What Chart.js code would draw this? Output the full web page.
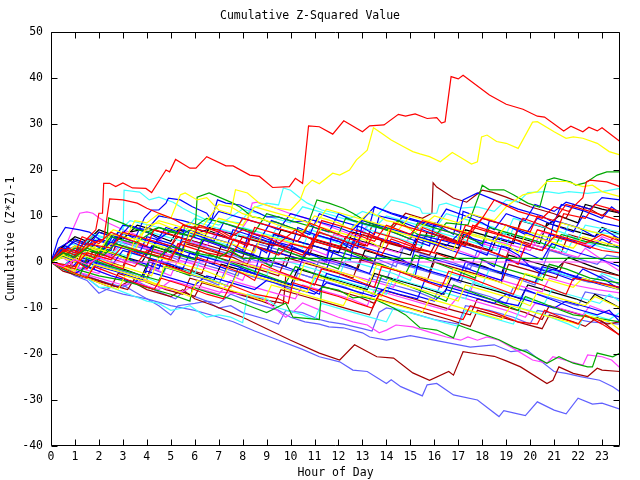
<!DOCTYPE html>
<html>
<head>
<meta charset="utf-8">
<script src="https://cdn.jsdelivr.net/npm/chart.js@4.4.1/dist/chart.umd.min.js"></script>
<style>
  html, body { margin: 0; padding: 0; background: #fff; }
  canvas { display: block; }
</style>
</head>
<body>
<canvas id="chart" width="640" height="480"></canvas>
<script>
// tick labels
const hourTicks = [0,1,2,3,4,5,6,7,8,9,10,11,12,13,14,15,16,17,18,19,20,21,22,23];
const valueTicks = [-40,-30,-20,-10,0,10,20,30,40,50];

// each run is a flat list: hour, value, hour, value ...
const redRuns = [
  [0,0, 0.5,2.5, 1,1.5, 1.5,5, 1.87,7, 2,10.6, 2.15,10.6, 2.2,17.1, 2.45,17.1, 2.7,16.4, 3,17.2, 3.4,16.1, 3.96,16, 4.2,15.1, 4.8,20, 4.95,19.6, 5.2,22.3, 5.8,20.4, 6.05,20.4, 6.5,22.9, 7.3,20.9, 7.6,20.9, 8.3,18.9, 8.7,18.6, 9.25,16.2, 9.95,16.4, 10.2,18.2, 10.5,17.1, 10.75,29.6, 11.2,29.4, 11.76,27.8, 12.22,30.7, 13,28.3, 13.3,29.6, 13.9,29.8, 14.5,32.1, 14.8,31.7, 15.2,32.2, 15.7,31.2, 16.1,31.4, 16.3,30.2, 16.45,30.5, 16.7,40.3, 17,39.8, 17.2,40.6, 18.3,36.3, 19,34.3, 19.7,33.2, 20.3,31.7, 20.6,31.5, 21.4,28.5, 21.7,29.5, 22.2,28.3, 22.45,29.3, 22.8,28.5, 23,29.2, 23.75,26.2],
  [0,0, 0.7,3, 1.2,2, 1.7,4, 2.2,5, 2.45,13.7, 3,13.5, 3.6,12.8, 4,11.7, 4.45,10.7, 5,9.6, 5.7,7.7, 6.2,7.5, 7,7, 7.5,5.5, 8,7, 8.5,6, 9,5.5, 9.5,4, 10.2,7, 11,4.5, 12,3, 12.5,6.5, 13.5,4.5, 14,8, 15,6, 15.5,9, 16.5,7.5, 17.5,6, 18,9.5, 19,8, 20,6.5, 20.3,10, 21,9, 21.5,12.5, 22.5,11, 23.75,9],
  [0,0, 1,-1, 1.5,2, 2.5,0.5, 3,3.5, 4,2, 5,0.5, 5.3,4, 6.5,2, 7.5,1, 8,5.5, 9,4, 9.5,3.5, 10.5,1.5, 11,5, 12,3.5, 12.5,2.5, 13,6, 14,4.5, 15,3, 16,2, 16.3,5, 17,4, 18,9.5, 18.5,13.5, 19.5,11, 20.5,9.5, 21,12, 21.6,11, 22.2,14, 22.35,17.4, 22.5,17.8, 23.2,17.4, 23.75,16.4],
  [0,0, 0.4,3, 1,2, 1.3,5.5, 2,4, 2.5,6.5, 3.2,5, 4,3.5, 4.3,7, 5,6, 5.8,4.5, 6.2,8, 7,6.5, 7.5,5, 8.2,3.5, 8.5,7.5, 9.5,6, 10.3,4.5, 10.8,8.5, 11.5,7, 12.5,5, 13.2,3.5, 13.5,6.5, 14.5,5, 15.2,3.5, 15.5,7.5, 16.5,5.5, 17.3,3.5, 17.6,8, 18.5,6.5, 19.3,5, 19.7,9.5, 20.5,8, 21.1,6.5, 21.4,10.5, 22.3,9.5, 22.7,12.5, 23.75,11],
  [0,0, 0.5,-1, 1,0.5, 1.5,-1.5, 2,2, 2.7,0.5, 3.5,-1, 4,2.5, 5,1, 5.5,4.5, 6.5,3, 7.3,1.5, 7.6,5, 8.5,3.5, 9.5,1.5, 10,4, 10.8,3, 11.2,6.5, 12,5, 13,3, 13.8,1.5, 14.2,5, 15,3.5, 16,2, 16.8,0.5, 17.2,4.5, 18,3, 19,1, 19.5,-0.5, 19.8,3.5, 20.5,2.5, 21,5.5, 22,4, 23,2.5, 23.75,2],
  [0,0, 1,-1.5, 1.3,2, 2.2,0, 3,-1.5, 3.3,2.5, 4.2,0.5, 5,-1, 5.8,-2.5, 6.1,1, 7,-0.5, 8,-2.5, 8.5,-4, 8.8,-0.5, 9.5,-2, 10.5,-4, 11,-5, 11.3,-1.5, 12,-2.5, 13,-4.5, 13.5,-5.5, 13.8,-1, 14.5,-2, 15.5,-4, 16.3,-5.5, 16.6,-2, 17.5,-3.5, 18.5,-5.5, 19.3,-7, 19.6,-3.5, 20.5,-5, 21.5,-7, 21.8,-3.5, 22.8,-4.5, 23.75,-5.5],
  [0,0, 0.8,-2, 1.5,-3.5, 1.8,-1, 2.8,-3, 3.5,-4.5, 4.3,-6, 4.6,-3.5, 5.5,-5, 6.5,-7, 7.2,-8, 7.5,-5, 8.5,-7, 9.5,-8, 9.9,-9, 10.1,-4.5, 11,-6, 12,-7.5, 12.8,-9, 13.4,-10, 13.7,-7, 14.5,-8.5, 15.5,-10, 16.5,-11.5, 17.2,-12.5, 17.5,-9.5, 18.5,-11, 19.5,-13, 20.3,-13.5, 20.6,-10.5, 21.5,-12.5, 22,-13.5, 22.3,-11.5, 23,-13.5, 23.75,-15.9],
  [0,0, 0.5,2, 1,1, 1.5,4, 2.5,3, 3,6.5, 4,5, 5,3.5, 5.5,8, 6.5,6.5, 7.5,5, 8,9.5, 9,8, 10,6.5, 11,5, 11.3,9, 12.3,7.5, 13.3,6, 14,4.5, 14.3,8.5, 15.3,7, 16.3,5.5, 17,4, 17.3,8, 18.3,6.5, 19.3,5, 20,3.5, 20.3,7, 21.3,5.5, 22.3,4, 23,6, 23.75,4.5]
];
const greenRuns = [
  [0,0, 0.5,2.5, 1,1.5, 1.6,3.5, 2.3,2, 2.4,9.6, 3,8.4, 3.5,7.2, 4,6.5, 4.5,7.5, 5,6.5, 6,5.5, 6.1,14.1, 6.6,15, 7.6,12.8, 7.9,11.9, 8.4,9.8, 8.7,9.6, 9.1,8.7, 9.4,8.7, 10,7.5, 10.6,6.5, 11.1,13.5, 11.6,12.8, 12.2,11.7, 12.6,10.6, 13.2,8.7, 14,7, 14.5,9, 15.3,6, 16,5.5, 16.5,8.5, 17.4,8, 17.9,15, 18,16.7, 18.3,15.7, 18.9,15.7, 19.3,14.6, 19.9,12.8, 20.4,11.9, 20.7,17.8, 21,18.3, 21.7,17.4, 21.9,16.7, 22.3,17.2, 22.8,18.9, 23.2,19.6, 23.75,19.6],
  [0,0, 1,-1.5, 2,-3, 3,-4, 4,-5.5, 5,-7, 5.8,-8.5, 5.9,-5.5, 6.5,-6.5, 7.5,-8, 8.5,-10, 9,-11, 9.8,-8.9, 10.1,-12, 11.2,-12.5, 11.3,-5.4, 12,-6.1, 12.6,-7.8, 13,-7.6, 13.6,-8.3, 14.3,-10, 14.8,-11.5, 15.4,-14.3, 16.1,-14.8, 16.8,-16.5, 17,-13.7, 17.3,-14.3, 17.9,-15.4, 18.7,-16.9, 19.3,-18.5, 19.85,-19.6, 20.7,-22, 21.2,-20.6, 21.8,-22, 22.4,-22.8, 22.6,-22.8, 22.8,-19.8, 23.45,-20.6, 23.75,-19.8],
  [0,0, 0.4,2, 1,0.5, 1.6,-1, 2,3, 2.8,1.5, 3.5,0, 4,-1, 4.3,3.5, 5,2, 6,0.5, 6.3,5, 7,4, 8,2, 8.7,0.5, 9.2,-1, 9.5,3, 10.5,1, 11.5,-0.5, 12,-1.5, 12.3,2.5, 13,1, 14,-1, 14.8,-2.5, 15.2,1.5, 16,0, 17,-2, 17.7,-3.5, 18,0.5, 19,-1.5, 20,-3, 20.5,-4, 20.8,-0.5, 21.5,-1.5, 22.5,-3.5, 23.75,-4.6],
  [0,0, 0.5,-1.5, 1.2,-3, 1.5,1, 2.5,-1, 3.5,-2.5, 4.5,-4, 4.8,-1, 5.8,-3, 6.2,2.5, 7.2,0.5, 8.2,-1.5, 9,-3, 9.8,-4.5, 10.2,-1, 11,-2.5, 12,-4.5, 13,-6, 13.5,-7, 13.8,-3, 14.8,-5, 15.8,-7, 16.5,-8.5, 16.8,-5, 17.8,-7, 18.8,-9, 19.5,-10.5, 19.8,-7.5, 20.8,-9.5, 21.8,-11.5, 22.5,-12, 23.75,-13],
  [0,0, 0.5,1, 1,3, 2,2, 2.5,5.5, 3.5,4, 4.5,7.5, 5.5,6, 6.5,9.5, 7.5,8, 8.5,6.5, 9,10.5, 10,9, 11,7.5, 12,6, 12.3,9.5, 13.3,8, 14.3,6.5, 15,5, 15.3,8.5, 16.3,7, 17.3,5.5, 18,4, 18.3,7.5, 19.3,6, 20.3,4.5, 21,3, 21.3,6, 22.3,4.5, 23.75,3]
];
const greenFlat = [0,0, 0.5,2, 1,1, 1.5,3, 2.2,1.5, 2.7,4, 3.5,2.5, 4.5,1, 5,3.5, 6,2, 7,1, 7.5,2.5, 8,0.8, 23.75,0.8];
const blueRuns = [
  [0,0, 0.3,5, 0.6,7.5, 1.2,7, 1.6,6.5, 2,5, 2.5,3.5, 3,6.5, 3.5,5, 3.9,9.6, 4.2,11.3, 4.5,11.3, 4.8,12.8, 4.9,13.9, 5.4,13.5, 5.9,12, 6.5,10.6, 6.7,9.1, 6.95,13.5, 7.3,12.8, 7.9,12.4, 8.2,11.7, 8.7,10.6, 9,9.8, 9.5,9.8, 10.1,8.7, 10.6,9, 11,7.5, 11.6,6.5, 12,10.5, 12.6,9, 13.3,8, 13.5,12, 14.2,10.5, 14.8,9.5, 15.5,8.5, 16,7.5, 16.5,11.5, 17.3,10, 18,8.5, 18.5,7, 19,10.5, 19.8,9, 20.2,12.5, 21,11, 21.5,13, 22.5,11.5, 23,14, 23.75,13.5],
  [0,0, 0.3,3, 0.8,4.5, 1.5,3, 2,6.5, 2.8,5, 3.3,8, 4,6.5, 4.5,5, 5.2,7.5, 6,6, 6.8,4.5, 7.2,8.5, 8,7, 8.8,5.5, 9.2,9, 10,7.5, 10.8,6, 11.2,10.5, 12,9, 13,7.5, 13.5,6, 13.7,10, 14.5,9, 15.5,7, 16.5,5, 17,4, 17.2,11, 18,9.5, 19,8, 19.8,6, 20.3,9.5, 21,8, 21.8,6.5, 22.2,10, 23,8.5, 23.75,7.7],
  [0,0, 0.5,2.5, 1,4.5, 1.6,3.5, 2.2,2, 2.6,6, 3.4,4.5, 4.2,3, 4.8,7.5, 5.6,6, 6.5,4.5, 7.3,3, 7.6,7, 8.5,5.5, 9.3,4, 10,2.5, 10.3,7.5, 11,6, 12,4.5, 12.8,3, 13,8.5, 14,7, 15,5, 15.8,3.5, 16,8.5, 16.8,7, 17.5,5.5, 18,3.5, 18.3,9, 19,8, 20,6, 20.8,4.5, 21,9, 22,7.5, 22.7,5.5, 23.1,7, 23.75,5],
  [0,0, 0.5,1.5, 1,3, 1.5,2, 2,5, 3,3.5, 3.7,2, 4,5.5, 5,4, 5.5,2.5, 5.8,7, 6.5,5.5, 7.5,4, 8,2.5, 8.3,6.5, 9,5, 10,3.5, 10.7,2, 11,6, 12,4.5, 12.5,3, 12.8,7, 13.5,5.5, 14.5,4, 15,2.5, 15.3,6, 16.5,4.5, 17.5,3, 18.2,1.5, 18.5,5.5, 19.5,4, 20.5,2.5, 20.8,6, 21.8,4.5, 22.5,3, 23,5, 23.75,3],
  [0,0, 0.6,3.5, 1.2,2, 2,0.5, 2.3,4, 3,3, 4,1.5, 4.4,4.5, 5.2,3, 6,1.5, 6.4,5, 7.5,3, 8.5,1.5, 9,0, 9.3,4.5, 10,3, 11,1.5, 11.5,0, 11.7,5.5, 12.5,4, 13.5,2.5, 14.5,1, 15,-0.5, 15.3,5, 16.2,3.5, 17,2, 18,0.5, 18.5,-1, 18.8,3.5, 19.8,2, 20.5,0.5, 20.9,4, 22,2, 23,0.5, 23.75,-1],
  [0,0, 0.4,1.5, 1,0, 1.8,-1.5, 2.1,2.5, 3,1, 4,-0.5, 4.5,-1.5, 4.8,3, 5.5,1.5, 6.5,0, 7.3,-1.5, 7.6,2.5, 8.5,1, 9.5,-0.5, 10.3,-2, 10.6,2, 11.5,0.5, 12.5,-1, 13.3,-2.5, 13.6,1.5, 14.5,0, 15.5,-1.5, 16.5,-3, 17,-4, 17.3,0, 18.3,-1.5, 19.3,-3, 20.2,-4.5, 20.5,-1, 21.5,-2.5, 22.5,-4, 23.75,-5.5],
  [0,0, 0.5,-1.5, 1,1.5, 1.8,0, 2.5,-1, 3,2.5, 4,1, 5,-0.5, 5.5,-1.5, 5.8,2, 6.8,0.5, 7.8,-1, 8.5,-2.5, 8.8,3, 9.8,1.5, 10.8,0, 11.5,-1.5, 11.8,2.5, 12.8,1, 13.8,-0.5, 14.5,-2, 15.2,-3, 15.4,1.5, 16.4,0, 17.4,-1.5, 18.2,-3, 18.8,-4, 19,0.5, 20,-1, 21,-2.5, 21.8,-4, 22.2,-1.5, 23,-3.5, 23.75,-6],
  [0,0, 0.7,-2, 1.2,0.5, 2,-1, 3,-2.5, 3.8,-4, 4.1,0, 5,-1.5, 6,-3, 7,-4.5, 7.5,-5.5, 7.8,-1.5, 8.8,-3, 9.8,-4.5, 10.8,-6, 11.2,-7, 11.5,-2.5, 12.5,-4, 13.5,-5.5, 14.5,-7, 15.3,-8, 15.6,-4, 16.6,-5.5, 17.6,-7, 18.6,-8.5, 19.5,-9.5, 19.8,-6, 20.8,-8, 21.8,-10, 22.8,-11.5, 23.3,-10.5, 23.75,-13],
  [0,0, 0.5,2, 1,5, 1.5,4, 2.5,2.5, 2.8,6.5, 3.8,5, 4.8,3.5, 5.3,2, 5.6,8, 6.5,6.5, 7.5,5, 8.5,3.5, 9,2, 9.3,6, 10.3,4.5, 11.3,3, 12,1.5, 12.5,0.5, 12.8,8, 13.5,12, 14.3,10.5, 15.3,9, 16.3,7.5, 16.8,6, 17.2,13.5, 17.8,15, 18.5,13.5, 19.5,11.5, 20.5,10, 21,8.5, 21.3,12.5, 22.3,11, 23,9.5, 23.4,12, 23.75,10.6],
  [0,0, 0.5,3, 1,2, 1.5,5, 2.5,4, 3,8, 4,7, 4.5,10, 5.5,9, 6.5,7.5, 7,11, 8,9.5, 9,8, 9.5,7, 10,10.5, 11,9, 12,7.5, 12.5,6.5, 13,9, 14,7.5, 15,6, 16,4.5, 16.5,3.5, 17,6, 18,4.5, 19,3, 19.5,1.5, 20,-1, 20.5,-2.5, 21,-1.5, 22,-3.5, 23,-5, 23.75,-6],
  [0,0, 0.5,-1, 1,-2.5, 1.5,-1, 2.5,-3, 3.5,-4.5, 4,-2, 5,-3.5, 6,-5, 6.5,-3, 7.5,-4.5, 8.5,-6, 9,-4, 10,-5.5, 11,-7, 11.5,-4.5, 12.5,-6, 13.5,-7.5, 14,-5.5, 15,-7, 16,-8.5, 16.5,-6, 17.5,-7.5, 18.5,-9, 19,-7, 20,-8.5, 21,-10, 21.5,-8.5, 22.5,-10, 23.75,-12]
];
const magentaRuns = [
  [0,0, 1,-2, 2,-3.5, 3,-5, 4,-4, 4.5,-5.5, 5.5,-6.5, 6,-5, 7,-6.5, 8,-7, 8.8,-7.8, 9.8,-12, 10.1,-10.9, 10.5,-8.9, 11.2,-10.4, 12,-12, 12.6,-13, 13.2,-13.7, 13.7,-15.4, 14,-14.8, 14.4,-13.7, 15.1,-14.1, 15.9,-15.4, 16.5,-16.3, 17.1,-17, 17.4,-16.3, 17.8,-17, 18.2,-16.3, 18.7,-17, 19.4,-19.1, 20.1,-21.3, 20.7,-22, 20.95,-20.6, 22.2,-22.4, 22.4,-20.2, 23,-20.6, 23.4,-21.3, 23.75,-23],
  [0,0, 0.5,2, 0.9,7, 1.2,10.6, 1.5,10.9, 1.75,10.6, 2,9.6, 2.3,8.7, 2.6,8, 3,7, 3.5,6, 4,5, 4.5,4, 4.8,7, 5.5,6, 6.5,4.5, 7.5,3, 8,2, 8.3,6.5, 9,5.5, 10,4, 11,2.5, 11.5,1.5, 11.8,6, 12.5,5, 13.5,3.5, 14.5,2, 15,5.5, 16,4, 17,2.5, 17.8,1, 18.2,5, 19,4, 20,2.5, 20.5,6.5, 21.5,5, 22.5,3.5, 23,5.5, 23.75,4],
  [0,0, 0.5,-1, 1,1, 1.5,3, 2.5,1.5, 3,4.5, 4,3, 5,1.5, 5.5,5, 6.5,3.5, 7,7, 7.8,6, 8.2,9, 8.4,12.8, 8.6,13, 9,12.4, 10,10.5, 11,9, 11.5,8, 12,7, 12.8,5.5, 13.3,8.5, 14.3,7, 15.3,5.5, 16,4, 16.3,7, 17.3,5.5, 18,4, 19,2.5, 19.5,1, 20,4, 21,2.5, 22,1, 22.3,3, 23,0.5, 23.75,-2],
  [0,0, 0.5,1, 1,-1, 2,-2.5, 2.3,1.5, 3.3,0, 4.3,-1.5, 5,-3, 5.3,0.5, 6.3,-1, 7.3,-2.5, 8,-4, 8.3,-0.5, 9.3,-2, 10.3,-3.5, 11,-5, 11.3,-1, 12.3,-2.5, 13.3,-4, 14.3,-5.5, 14.6,-2, 15.6,-3.5, 16.6,-5, 17.5,-6.5, 17.8,-2.5, 18.8,-4, 19.8,-5.5, 20.5,-6.5, 20.8,-3.5, 21.8,-5, 22.8,-6, 23.75,-6.7],
  [0,0, 0.8,-2, 1.5,-1, 2.5,-3, 3.5,-4.5, 4.5,-6, 5,-4, 6,-5.5, 7,-7, 7.5,-4, 8.5,-5.5, 9.5,-7, 10.2,-8, 10.5,-5, 11.5,-6.5, 12.5,-8, 13.2,-9.5, 13.5,-6, 14.5,-7.5, 15.5,-9, 16.5,-10.5, 17,-7.5, 18,-9, 19,-10.5, 19.8,-12, 20.2,-9, 21.2,-10, 22.2,-11.5, 22.5,-9.5, 23.75,-12]
];
const magentaFlat = [0,0, 0.5,-1, 1,0.5, 1.5,-0.5, 2,1, 2.5,0, 23.75,0];
const cyanRuns = [
  [0,0, 1,-1, 1.5,1.5, 2.5,0, 3,4.8, 3.05,15.6, 3.7,15.2, 4.1,13.5, 4.5,14.1, 5.1,13, 5.5,11.7, 5.9,10.6, 6.5,9.1, 7.6,8.7, 7.9,8.5, 8.2,10.6, 8.4,11.7, 9,12.8, 9.5,12.4, 9.7,16.1, 10,15.6, 10.4,13.9, 10.7,12.8, 11.3,11.3, 11.9,10.6, 12.5,9.5, 13,11, 13.6,10, 14.2,13.5, 14.8,12.8, 15.4,11.7, 15.5,10.6, 16.1,10.6, 16.2,12.4, 16.5,12.8, 17.1,11.7, 17.8,12, 18.5,11, 19,13.5, 19.5,13, 19.9,15.1, 20.7,15.3, 21.2,14.9, 21.6,15.3, 22.4,14.9, 23,15.3, 23.75,16],
  [0,0, 0.5,2.5, 1,1.5, 1.5,4, 2.5,2.5, 3.3,1, 3.6,5, 4.5,3.5, 5.3,2, 5.6,6.5, 6.5,5, 7.5,3.5, 8,7.5, 9,6, 10,4.5, 10.5,3, 10.8,7, 11.8,5.5, 12.8,4, 13.3,8.5, 14.3,7, 15.3,5.5, 16,4, 16.3,8, 17.3,6.5, 18.3,5, 19,3.5, 19.3,7.5, 20.3,6, 21.3,4.5, 21.6,8, 22.6,6.5, 23.75,6],
  [0,0, 0.5,-1, 1,1.5, 2,0, 3,-1.5, 3.3,2, 4.3,0.5, 5.3,-1, 6,-2.5, 6.3,1.5, 7.3,0, 8.3,-1.5, 9,-3, 9.3,1, 10.3,-0.5, 11.3,-2, 12,-3.5, 12.3,0.5, 13.3,-1, 14.3,-2.5, 15,-4, 15.3,-0.5, 16.3,-2, 17.3,-3.5, 18,-5, 18.3,-1.5, 19.3,-3, 20.3,-4.5, 20.6,-1.5, 21.6,-3, 22.6,-4.5, 23,-2.5, 23.75,-4],
  [0,0, 0.8,-2, 1.5,-3.5, 1.8,0, 2.8,-1.5, 3.8,-3, 4.5,-4.5, 4.8,-1, 5.8,-2.5, 6.8,-4, 7.5,-5.5, 7.8,-1.5, 8.8,-3, 9.8,-4.5, 10.8,-6, 11.1,-2.5, 12.1,-4, 13.1,-5.5, 14,-7, 14.3,-3.5, 15.3,-5, 16.3,-6.5, 17.3,-8, 17.6,-4.5, 18.6,-6, 19.6,-7.5, 20.6,-9, 20.9,-6, 21.9,-7.5, 22.9,-9, 23.3,-7, 23.75,-8.6],
  [0,0, 0.5,-1.5, 1,-2.5, 1.5,-3.5, 2,-5.5, 2.5,-5.5, 3,-6.5, 3.5,-7.5, 4,-8.5, 4.5,-9, 5,-10.5, 5.5,-10, 5.8,-9.5, 6.2,-11, 6.5,-12, 7,-11.5, 7.5,-12, 8,-13.2, 8.2,-7, 9,-8, 9.5,-10, 10.5,-11.5, 11,-12.5, 11.3,-9, 12.3,-10.5, 13.3,-12, 14,-13, 14.3,-10, 15.3,-11.5, 16.3,-13, 17,-14, 17.3,-10.5, 18.3,-12, 19.3,-13.5, 19.6,-10, 20.6,-11.5, 21.6,-13.5, 22,-14.5, 22.3,-11, 23.3,-12.5, 23.75,-11],
  [0,0, 0.3,2, 0.8,4, 1.5,3, 2,5.5, 3,4, 3.5,2.5, 3.8,7, 4.8,5.5, 5.8,4, 6.2,8.5, 7.2,7, 8.2,5.5, 9,4, 9.5,8, 10.5,6.5, 11.5,5, 12.3,3.5, 12.6,8, 13.6,6.5, 14.6,5, 15.5,3.5, 15.8,7, 16.8,5.5, 17.8,4, 18.6,2.5, 18.9,6.5, 19.9,5, 20.9,3.5, 21.5,2, 21.8,5, 22.8,3.5, 23.75,2],
  [0,0, 1,2, 1.8,6, 2.5,5, 3.3,9, 4.5,7.5, 5.5,6, 6,9.5, 7,8, 8,11.5, 9,10, 10,8.5, 10.5,12, 11.5,10.5, 12.5,9, 13.5,7.5, 14,10, 15,8.5, 16,7, 16.5,10.5, 17.5,9, 18.5,7.5, 19,6, 19.3,9.5, 20.3,8, 21.3,6.5, 22,5, 22.3,8, 23.75,6.5]
];
const darkRedRuns = [
  [0,0, 1,-2.5, 2,-4, 2.8,-5.5, 3.3,-4, 4,-6, 5,-7.5, 5.5,-6, 6,-8, 6.8,-9.5, 7.5,-11, 8,-12, 9,-14.5, 10,-17, 11.2,-19.8, 12.05,-21.3, 12.67,-18, 13.6,-20.6, 14.3,-20.9, 15.1,-24.1, 15.8,-25.7, 16.6,-23.8, 16.8,-24.6, 17.2,-19.5, 17.8,-20, 18.5,-20.5, 19,-21.5, 19.6,-22.8, 20.7,-26.4, 20.95,-25.7, 21.2,-22.8, 21.8,-24.2, 22.4,-24.9, 22.8,-23.1, 23,-23.5, 23.75,-23.8],
  [0,0, 0.5,1.5, 1,3.5, 1.5,2.5, 2.5,1, 2.8,5, 3.8,3.5, 4.8,2, 5.3,5.5, 6.3,4, 7.3,2.5, 8,1, 8.3,5.5, 9.3,4, 10.3,2.5, 10.8,1.5, 11.1,6.5, 12.1,5, 13.1,3.5, 13.4,8, 14.2,7, 14.8,10.6, 15.5,9.5, 15.9,10.6, 15.95,17.2, 16.1,16.3, 16.8,13.9, 17.35,13, 18,15.6, 18.4,15.2, 19,14.1, 20,12, 21,10.5, 21.5,9.5, 21.8,12.5, 22.5,11.5, 23,10, 23.3,11.5, 23.75,10.6],
  [0,0, 0.7,-1.5, 1.2,2, 2.2,0.5, 3,-1, 3.3,3, 4.3,1.5, 5.3,0, 5.6,4, 6.6,2.5, 7.6,1, 8.2,-0.5, 8.5,3.5, 9.5,2, 10.5,0.5, 11,4.5, 12,3, 13,1.5, 13.5,0, 13.8,4.5, 14.8,3, 15.8,1.5, 16.2,5.5, 17.2,4, 18.2,2.5, 19,1, 19.3,5, 20.3,3.5, 21.3,2, 21.6,6, 22.6,4.5, 23.2,3.5, 23.5,5.5, 23.75,4.5],
  [0,0, 0.5,-1.5, 1.2,-3, 1.5,0.5, 2.5,-1, 3.5,-2.5, 4,-3.5, 4.3,0.5, 5.3,-1, 6.3,-2.5, 6.6,1.5, 7.6,0, 8.6,-1.5, 9.5,-3, 9.8,1, 10.8,-0.5, 11.8,-2, 12.6,-3.5, 12.9,0.5, 13.9,-1, 14.9,-2.5, 15.7,-4, 16,0, 17,-1.5, 18,-3, 18.8,-4.5, 19.1,-0.5, 20.1,-2, 21.1,-3.5, 21.4,0, 22.4,-1.5, 23.75,-3],
  [0,0, 0.5,-2, 1.5,-3.5, 2.5,-5, 3.2,-6, 3.5,-3.5, 4.5,-5, 5.5,-6.5, 6,-7.5, 6.3,-4.5, 7.3,-6, 8.3,-7.5, 9.2,-8.5, 9.7,-9, 9.8,-3, 10.8,-4.5, 11.8,-6, 12.8,-7.5, 13.5,-9, 13.8,-6, 14.8,-7.5, 15.8,-9, 16.8,-10.5, 17.5,-11.5, 17.8,-8, 18.8,-9.5, 19.8,-11, 20.5,-12.5, 20.8,-9.5, 21.8,-11, 22.8,-12.5, 23.2,-13.5, 23.75,-13],
  [0,0, 1,-2.5, 2,-4.5, 2.5,-5.5, 2.8,-2.5, 3.8,-4, 4.8,-6, 5.5,-7, 5.8,-3.5, 6.8,-5, 7.8,-7, 8.8,-8.5, 9.3,-9.5, 9.6,-6, 10.6,-7.5, 11.6,-9, 12.6,-10.5, 13.3,-11.5, 13.6,-8, 14.6,-9.5, 15.6,-11, 16.6,-12.5, 17.5,-14, 17.8,-10.5, 18.8,-12, 19.8,-13.5, 20.5,-14.5, 20.8,-11.5, 21.8,-13, 22.3,-14, 22.8,-12, 23.75,-16]
];
const yellowRuns = [
  [0,0, 0.5,1, 1,0, 1.5,2, 2,4, 2.6,7, 3.2,6, 3.5,9, 4,8.5, 4.5,10.5, 5,9.5, 5.4,14.6, 5.6,15, 6.1,13.5, 6.5,14, 7,11.3, 7.5,10.5, 7.7,15.7, 8.2,15, 8.7,12.8, 9.4,11.7, 10,11.3, 10.4,13.5, 10.6,16.3, 10.9,17.8, 11.2,17, 11.76,19.3, 12.05,18.9, 12.46,20, 12.75,22.2, 13.2,24.3, 13.46,29.2, 13.8,28, 14.2,26.5, 14.7,25.1, 15.1,24, 15.4,23.5, 15.8,22.9, 16.25,21.8, 16.75,23.8, 17.05,22.9, 17.55,21.3, 17.8,21.8, 17.97,27.2, 18.2,27.6, 18.6,26.2, 19,25.8, 19.5,24.7, 20.1,30.4, 20.3,30.5, 21,28.3, 21.5,26.9, 21.8,27.2, 22.2,26.9, 22.8,25.8, 23.3,24, 23.75,23.3],
  [0,0, 1,-1.5, 1.3,2.5, 2,1, 2.5,4, 3.5,2.5, 4,8, 4.5,8.5, 5.2,7, 5.8,8.5, 6.3,7.5, 7,12.5, 7.5,12, 8,10.5, 9,9, 9.5,8, 10.5,6.5, 11,10, 12,8.5, 12.5,7, 13.3,11, 14,9, 14.5,8.5, 15.2,6.5, 16,10, 17,8.5, 17.5,10.5, 18.5,9, 19,12, 19.7,14.6, 20.3,15.3, 20.7,17.5, 21.5,17.5, 22.2,16.4, 22.6,16.7, 23,15.3, 23.75,14.2],
  [0,0, 0.5,1.5, 1,0.5, 1.5,3.5, 2.5,2, 3.2,0.5, 3.5,5, 4.5,3.5, 5.5,2, 5.8,6.5, 6.8,5, 7.8,3.5, 8.5,2, 8.8,6, 9.8,4.5, 10.8,3, 11.3,7.5, 12.3,6, 13.3,4.5, 13.8,3, 14.1,7, 15.1,5.5, 16.1,4, 16.8,2.5, 17.1,6.5, 18.1,5, 19.1,3.5, 19.5,2, 19.8,6, 20.8,4.5, 21.8,3, 22.2,5.5, 23.2,4, 23.75,3.5],
  [0,0, 0.5,-1, 1,-2, 1.3,1.5, 2.3,0, 3.3,-1.5, 4.2,-3, 4.5,1, 5.5,-0.5, 6.5,-2, 7.2,-3.5, 7.5,0.5, 8.5,-1, 9.5,-2.5, 10.3,-4, 10.6,0, 11.6,-1.5, 12.6,-3, 13.3,-4.5, 13.6,-0.5, 14.6,-2, 15.6,-3.5, 16.5,-5, 16.8,-1.5, 17.8,-3, 18.8,-4.5, 19.5,-6, 19.8,-2.5, 20.8,-4, 21.8,-5.5, 22.2,-3.5, 23.75,-6],
  [0,0, 0.8,-2, 1.5,-3.5, 1.8,-0.5, 2.8,-2, 3.8,-3.5, 4.5,-5, 4.7,-1, 5.7,-2.5, 6.7,-4, 7.5,-5.5, 7.8,-2, 8.8,-3.5, 9.8,-5, 10.7,-6.5, 11,-3, 12,-4.5, 13,-6, 13.8,-7.5, 14.1,-4, 15.1,-5.5, 16.1,-7, 17,-8.5, 17.3,-5, 18.3,-6.5, 19.3,-8, 20,-9.5, 20.3,-6.5, 21.3,-8, 22.3,-9.5, 22.7,-7.5, 23.75,-10],
  [0,0, 1,-2.5, 2,-4.5, 2.8,-6, 3.1,-3, 4.1,-4.5, 5.1,-6, 5.8,-7.5, 6.1,-4, 7.1,-5.5, 8.1,-7, 8.9,-8.5, 9.2,-5, 10.2,-6.5, 11.2,-8, 12.2,-9.5, 12.5,-6.5, 13.5,-8, 14.5,-9.5, 15.5,-11, 15.8,-8, 16.8,-9.5, 17.8,-11, 18.8,-12.5, 19.2,-9.5, 20.2,-11, 21.2,-12.5, 22,-13.5, 22.3,-11.5, 23.3,-13, 23.75,-14.8],
  [0,0, 0.5,1.5, 1,3.5, 2,2.5, 2.5,6, 3.5,5, 4.5,9, 5.5,7.5, 6.5,6, 7,9.5, 8,8, 8.5,12, 9.5,10.5, 10.5,9, 11,8, 11.5,11.5, 12.5,10, 13.5,8.5, 14.5,7, 15,10, 16,8.5, 17,7, 18,5.5, 18.5,4.5, 19,8, 20,6.5, 21,5, 21.3,8.5, 22.3,7, 23.75,5]
];
const blackRuns = [
  [0,0, 0.4,3, 1,5.5, 1.5,4.5, 2,7, 2.5,6, 3,5, 3.3,6.5, 3.7,7, 4,6.5, 4.5,5.5, 5,4.5, 5.3,7, 6,6, 6.5,7, 7.5,5, 8.5,3.5, 9,2.5, 9.3,6, 10.3,4.5, 11.3,3, 12,2, 12.3,5.5, 13.3,4, 14.3,2.5, 15,1.5, 15.3,5.5, 16.3,4, 17,3, 17.3,7, 18.3,5.5, 19.3,4, 19.6,9, 20.6,7.5, 21.2,10, 22,8.5, 22.3,12.5, 23,11.5, 23.75,10.6],
  [0,0, 0.5,2, 1,1, 1.5,-0.5, 1.8,3, 2.8,1.5, 3.8,0, 4.2,3.5, 5.2,2, 6.2,0.5, 6.8,-0.5, 7.1,3.5, 8.1,2, 9.1,0.5, 9.8,-1, 10.1,3, 11.1,1.5, 12.1,0, 12.8,-1.5, 13.1,2.5, 14.1,1, 15.1,-0.5, 15.8,-2, 16.1,2, 17.1,0.5, 18.1,-1, 18.8,-2.5, 19.1,1.5, 20.1,0, 21.1,-1.5, 21.6,1, 22.6,-1, 23.75,-3],
  [0,0, 0.5,-1, 1,1.5, 2,0, 3,-1.5, 3.8,-3, 4.1,0.5, 5.1,-1, 6.1,-2.5, 6.8,-4, 7.1,-0.5, 8.1,-2, 9.1,-3.5, 10,-5, 10.3,-1.5, 11.3,-3, 12.3,-4.5, 13.2,-6, 13.5,-2.5, 14.5,-4, 15.5,-5.5, 16.4,-7, 16.7,-3.5, 17.7,-5, 18.7,-6.5, 19.6,-8, 19.9,-5, 20.9,-6.5, 21.9,-8, 22.4,-9, 22.7,-7, 23.75,-10],
  [0,0, 0.3,2.5, 0.9,5, 1.5,4, 2,6.5, 3,5, 3.6,8, 4.6,6.5, 5.6,5, 6.3,4, 6.6,7.5, 7.6,6, 8.6,4.5, 9.3,3.5, 9.6,7, 10.6,5.5, 11.6,4, 12.3,3, 12.6,6.5, 13.6,5, 14.6,3.5, 15.4,2.5, 15.7,6.5, 16.7,5, 17.7,3.5, 18.4,2.5, 18.7,6.5, 19.7,5, 20.4,4, 20.7,8.5, 21.7,7, 22.7,5.5, 23,7.5, 23.75,6]
];
const slateRuns = [
  [0,0, 0.5,-1.5, 1,-3, 1.5,-3.5, 2,-5.5, 3,-7, 4,-8, 5,-9.5, 6,-10.5, 7,-12, 7.6,-13, 8.5,-15, 9.5,-17, 10.5,-19, 11.2,-20.6, 12.05,-21.7, 12.6,-23.5, 13.2,-23.8, 14,-26.4, 14.2,-25.6, 14.6,-27.1, 15.5,-29.1, 15.7,-26.7, 16.1,-26.4, 16.8,-28.9, 17.8,-30, 18.7,-33.6, 18.9,-32.3, 19.3,-32.8, 19.8,-33.4, 20.3,-30.4, 21,-32.2, 21.5,-33, 22,-29.6, 22.6,-30.9, 23,-30.7, 23.75,-32],
  [0,0, 1,-2, 2,-4, 3,-5.5, 3.5,-4, 4.5,-6.5, 5.2,-8, 5.5,-6.5, 6.5,-8.5, 7,-9, 7.5,-7, 8.5,-9, 9.5,-10.5, 10,-12, 10.6,-13, 11.2,-13.5, 11.6,-14.1, 12.2,-14.3, 13,-15.4, 13.3,-16.3, 14,-17, 15,-16, 16,-17, 16.8,-17.8, 17.5,-18.5, 18.5,-18, 19.2,-19.5, 19.85,-19.1, 21,-23.8, 21.5,-24.2, 22.1,-24.9, 22.9,-25.7, 23.45,-27.1, 23.75,-28.2],
  [0,0, 0.5,-1.5, 1,-3, 1.5,-4, 2,-6.8, 2.5,-5.5, 3,-5, 3.5,-6.5, 4,-8, 4.5,-9.5, 5,-11.5, 5.3,-9.5, 6,-9, 6.5,-8.5, 7,-10, 7.5,-9.5, 8,-11, 9,-12.5, 9.5,-13.5, 9.8,-10.5, 10.5,-11, 11.2,-12.5, 11.6,-13, 12.2,-13.5, 13,-14.5, 13.4,-15, 13.7,-10.9, 14,-10, 15,-11, 16,-12.5, 17,-13.5, 17.3,-9.5, 18.3,-10.5, 19.3,-12, 20,-13.5, 20.3,-10.5, 21.3,-11.5, 22,-12.5, 22.5,-13, 23.75,-13.5],
  [0,0, 0.5,-1, 1,-2.5, 1.3,0.5, 2.3,-1, 3.3,-2.5, 4,-4, 4.3,-0.5, 5.3,-2, 6.3,-3.5, 7,-5, 7.3,-1.5, 8.3,-3, 9.3,-4.5, 10,-6, 10.3,-2.5, 11.3,-4, 12.3,-5.5, 13,-7, 13.3,-3.5, 14.3,-5, 15.3,-6.5, 16,-8, 16.3,-4.5, 17.3,-6, 18.3,-7.5, 19,-9, 19.3,-5.5, 20.3,-7, 21.3,-8.5, 22,-9.5, 22.3,-6.5, 23.3,-7.5, 23.75,-8],
  [0,0, 0.5,1.5, 1,0, 1.7,-1.5, 2,2, 3,0.5, 4,-1, 4.7,-2.5, 5,1.5, 6,0, 7,-1.5, 7.8,-3, 8.1,1, 9.1,-0.5, 10.1,-2, 10.9,-3.5, 11.2,0.5, 12.2,-1, 13.2,-2.5, 14,-4, 14.3,0, 15.3,-1.5, 16.3,-3, 17.1,-4.5, 17.4,-0.5, 18.4,-2, 19.4,-3.5, 20.2,-5, 20.5,-1.5, 21.5,-3, 22.5,-4.5, 23,-3, 23.75,-5],
  [0,0, 0.5,2, 1,3.5, 1.5,2.5, 2.5,1, 2.8,4.5, 3.8,3, 4.8,1.5, 5.3,0.5, 5.6,4.5, 6.6,3, 7.6,1.5, 8.3,0, 8.6,4, 9.6,2.5, 10.6,1, 11.4,-0.5, 11.7,3.5, 12.7,2, 13.7,0.5, 14.4,-1, 14.7,3, 15.7,1.5, 16.7,0, 17.5,-1.5, 17.8,2.5, 18.8,1, 19.8,-0.5, 20.5,-1.5, 20.8,2.5, 21.8,1, 22.8,-0.5, 23.2,1.5, 23.75,1]
];

const colours = {
  red: '#ff0000', green: '#00a800', blue: '#0000ff', magenta: '#ff40ff',
  cyan: '#40ffff', darkRed: '#a00000', yellow: '#ffff00', black: '#000000', slate: '#6060ff'
};

function toPoints(run) {
  const pts = [];
  for (let i = 0; i < run.length; i += 2) pts.push({x: run[i], y: run[i + 1]});
  return pts;
}

function line(run, colour) {
  return {
    data: toPoints(run),
    borderColor: colour,
    borderWidth: 1.2,
    pointRadius: 0,
    tension: 0,
    fill: false
  };
}

// first dataset is drawn on top in Chart.js
const datasets = [line(greenFlat, colours.green), line(magentaFlat, colours.magenta)];
const groups = [
  [redRuns, colours.red], [yellowRuns, colours.yellow], [greenRuns, colours.green],
  [blueRuns, colours.blue], [cyanRuns, colours.cyan], [magentaRuns, colours.magenta],
  [darkRedRuns, colours.darkRed], [blackRuns, colours.black], [slateRuns, colours.slate]
];
groups.forEach(([runs, colour]) => runs.forEach(r => datasets.push(line(r, colour))));

const font = {family: '"DejaVu Sans Mono", monospace', size: 11.5};

// gnuplot style frame with inward ticks on all four sides
const frame = {
  id: 'frame',
  afterDatasetsDraw(chart) {
    const {ctx, chartArea: a, scales: {x, y}} = chart;
    const l = Math.round(a.left) + 0.5, r = Math.round(a.right) - 0.5;
    const t = Math.round(a.top) + 0.5, b = Math.round(a.bottom) - 0.5;
    ctx.save();
    ctx.strokeStyle = '#000';
    ctx.lineWidth = 1;
    ctx.beginPath();
    hourTicks.forEach(h => {
      const px = Math.round(x.getPixelForValue(h)) + 0.5;
      ctx.moveTo(px, b); ctx.lineTo(px, b - 6);
      ctx.moveTo(px, t); ctx.lineTo(px, t + 6);
    });
    valueTicks.forEach(v => {
      const py = Math.round(y.getPixelForValue(v)) + 0.5;
      ctx.moveTo(l, py); ctx.lineTo(l + 6, py);
      ctx.moveTo(r, py); ctx.lineTo(r - 6, py);
    });
    ctx.rect(l, t, r - l, b - t);
    ctx.stroke();
    ctx.restore();
  }
};

new Chart(document.getElementById('chart'), {
  type: 'line',
  data: {datasets},
  plugins: [frame],
  options: {
    responsive: false,
    devicePixelRatio: 1,
    animation: false,
    events: [],
    parsing: false,
    layout: {padding: {left: 0, right: 20, top: 0, bottom: 0}},
    plugins: {
      legend: {display: false},
      tooltip: {enabled: false},
      title: {
        display: true,
        text: 'Cumulative Z-Squared Value',
        color: '#000',
        font: {family: font.family, size: 11.5, weight: 'normal', lineHeight: 1.2},
        padding: {top: 9, bottom: 9.2}
      }
    },
    scales: {
      x: {
        type: 'linear',
        min: 0,
        max: 23.75,
        afterBuildTicks: s => { s.ticks = hourTicks.map(v => ({value: v})); },
        afterFit: s => { s.height = 34; },
        grid: {display: false, drawTicks: false},
        border: {display: false},
        ticks: {color: '#000', font, padding: 4.5, maxRotation: 0, autoSkip: false},
        title: {display: true, text: 'Hour of Day', color: '#000', font: {family: font.family, size: 11.5, lineHeight: 1.2}, padding: {top: 0, bottom: 0}}
      },
      y: {
        type: 'linear',
        min: -40,
        max: 50,
        afterBuildTicks: s => { s.ticks = valueTicks.map(v => ({value: v})); },
        afterFit: s => { s.width = 51; },
        grid: {display: false, drawTicks: false},
        border: {display: false},
        ticks: {color: '#000', font, padding: 8},
        title: {display: true, text: 'Cumulative (Z*Z)-1', color: '#000', font: {family: font.family, size: 11.5, lineHeight: 1.2}, padding: {top: 4, bottom: 0}}
      }
    }
  }
});
</script>
</body>
</html>
